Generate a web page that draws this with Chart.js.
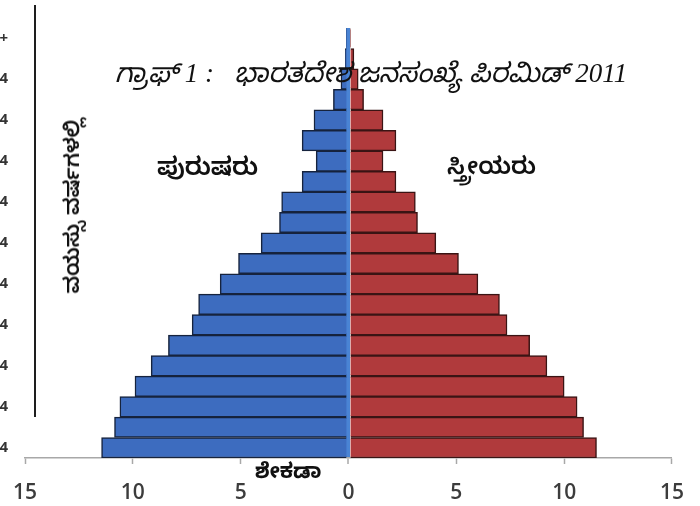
<!DOCTYPE html>
<html>
<head>
<meta charset="utf-8">
<script src="https://cdn.jsdelivr.net/npm/chart.js@4/dist/chart.umd.min.js"></script>
<style>
  html, body { margin: 0; padding: 0; background: #fff; }
  #wrap { position: relative; width: 700px; height: 506px; overflow: hidden; }
  #grafico { position: absolute; left: -35px; top: 0; }
  .txt { position: absolute; color: #111; white-space: pre; font-family: "Noto Sans Kannada", "Lohit Kannada", "Noto Sans", sans-serif; }
  #titulo { left: 115px; top: 58px; font-size: 27px; font-style: italic; font-family: "Liberation Serif", "Noto Sans Kannada", serif; }
  #homens { left: 157px; top: 155px; font-size: 25px; font-weight: 600; }
  #mulheres { left: 447px; top: 155px; font-size: 24px; font-weight: 600; }
  #eixoY { left: 76px; top: 206px; font-size: 21px; font-weight: 600; transform: translate(-50%, -50%) rotate(-90deg); }
  #eixoX { left: 255px; top: 461px; font-size: 21px; font-weight: 700; }
  #linha { position: absolute; left: 34px; top: 5px; width: 2px; height: 412px; background: #1e1e1e; }
</style>
</head>
<body>
<div id="wrap">
  <canvas id="grafico" width="735" height="506"></canvas>
  <div id="linha"></div>
  <div class="txt" id="titulo">ಗ್ರಾಫ್ 1 :   ಭಾರತದೇಶ ಜನಸಂಖ್ಯೆ ಪಿರಮಿಡ್ 2011</div>
  <div class="txt" id="homens">ಪುರುಷರು</div>
  <div class="txt" id="mulheres">ಸ್ತ್ರೀಯರು</div>
  <div class="txt" id="eixoY">ವಯಸ್ಸು ವರ್ಷಗಳಲ್ಲಿ</div>
  <div class="txt" id="eixoX">ಶೇಕಡಾ</div>
</div>
<script>
// ── Dados (percentual da população por faixa etária) ──
const faixas = ['0-4','5-9','10-14','15-19','20-24','25-29','30-34','35-39','40-44','45-49',
                '50-54','55-59','60-64','65-69','70-74','75-79','80-84','85-89','90-94','95-99','100+'];
const homens   = [11.45, 10.85, 10.6, 9.9, 9.15, 8.35, 7.25, 6.95, 5.95, 5.1,
                  4.05, 3.2, 3.1, 2.15, 1.5, 2.15, 1.6, 0.7, 0.35, 0.15, 0.1];
const mulheres = [11.5, 10.9, 10.6, 10.0, 9.2, 8.4, 7.35, 7.0, 6.0, 5.1,
                  4.05, 3.2, 3.1, 2.2, 1.6, 2.2, 1.6, 0.7, 0.45, 0.25, 0.1];
const ticksX   = [-15, -10, -5, 0, 5, 10, 15];

const AZUL = '#3d6cbf';
const VERMELHO = '#b03a3c';

new Chart(document.getElementById('grafico').getContext('2d'), {
  type: 'bar',
  data: {
    labels: faixas,
    datasets: [
      { label: 'ಪುರುಷರು', data: homens.map(v => -v), backgroundColor: AZUL, borderColor: '#16233d', borderWidth: 1.5 },
      { label: 'ಸ್ತ್ರೀಯರು', data: mulheres, backgroundColor: VERMELHO, borderColor: '#3a1414', borderWidth: 1.5 }
    ]
  },
  options: {
    indexAxis: 'y',
    responsive: false,
    animation: false,
    barPercentage: 1,
    categoryPercentage: 1,
    layout: { padding: { top: 28, right: 28, left: 0, bottom: 0 } },
    plugins: { legend: { display: false }, tooltip: { enabled: false } },
    scales: {
      x: {
        stacked: true,
        min: -15, max: 15,
        z: 1,
        afterFit: s => { s.height = 48; },
        afterBuildTicks: s => { s.ticks = ticksX.map(v => ({ value: v })); },
        border: { color: '#a8a8a8', width: 1.5 },
        grid: {
          // linha azul no zero, demais só marcas
          color: ctx => ctx.tick && ctx.tick.value === 0 ? '#4a84d4' : 'rgba(0,0,0,0)',
          lineWidth: ctx => ctx.tick && ctx.tick.value === 0 ? 4 : 1,
          tickColor: '#a8a8a8', tickWidth: 1.5, tickLength: 6
        },
        ticks: {
          color: '#3c3c3c', padding: 16,
          font: { size: 21, weight: '600', family: 'Open Sans, sans-serif' },
          callback: v => Math.abs(v)
        }
      },
      y: {
        stacked: true,
        reverse: true,
        afterFit: s => { s.width = 60; },
        border: { display: false },
        grid: { display: false, drawTicks: false },
        ticks: {
          autoSkip: false, padding: 17, color: '#333',
          font: { size: 15, weight: '700', family: 'Open Sans, sans-serif' },
          callback: (v, i) => i % 2 === 0 ? faixas[i] : ''
        }
      }
    }
  }
});
</script>
</body>
</html>
